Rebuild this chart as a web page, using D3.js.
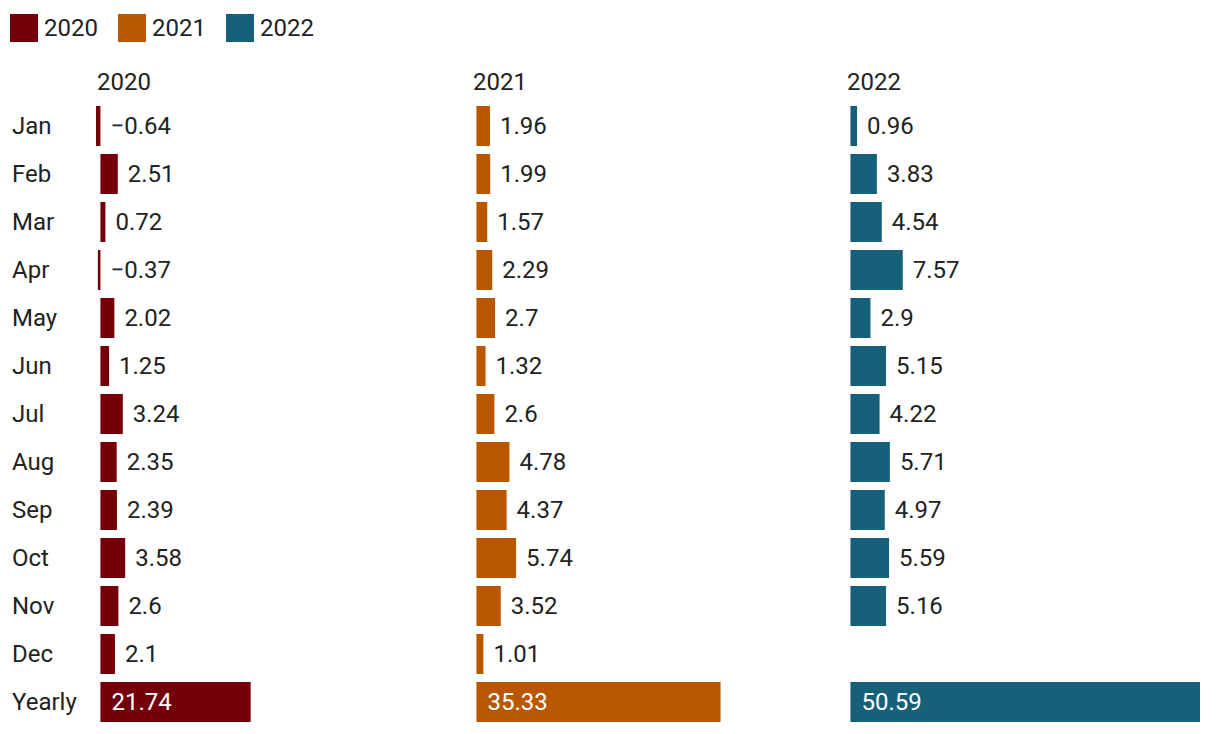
<!DOCTYPE html>
<html><head><meta charset="utf-8">
<script src="https://cdn.jsdelivr.net/npm/d3@7"></script>
<style>body{margin:0;background:#fff;} text{font-family:Roboto,"Noto Sans",sans-serif;}</style>
</head><body>
<svg id="c" width="1220" height="734"></svg>
<script>
const categories = ["Jan","Feb","Mar","Apr","May","Jun","Jul","Aug","Sep","Oct","Nov","Dec","Yearly"];
const years = ["2020","2021","2022"];
const values2020 = [-0.64,2.51,0.72,-0.37,2.02,1.25,3.24,2.35,2.39,3.58,2.6,2.1,21.74];
const values2021 = [1.96,1.99,1.57,2.29,2.7,1.32,2.6,4.78,4.37,5.74,3.52,1.01,35.33];
const values2022 = [0.96,3.83,4.54,7.57,2.9,5.15,4.22,5.71,4.97,5.59,5.16,null,50.59];
const colors = ["#730009","#b95700","#17607a"];
const series = [values2020, values2021, values2022];

const svg = d3.select("#c");
const textColor = "#222";
const fs = 24;

// legend
const lg = svg.append("g");
years.forEach((y,i)=>{
  const xs = [10,118,226][i];
  lg.append("rect").attr("x",xs).attr("y",14).attr("width",28).attr("height",28).attr("fill",colors[i]);
  lg.append("text").attr("x",xs+34).attr("y",36).attr("font-size",fs).attr("fill",textColor).text(y);
});

const yScale = d3.scaleBand().domain(categories).range([102,726]).paddingInner(1/6).paddingOuter(1/12);
const all = series.flat().filter(v=>v!=null);
const panelX = [96,472,846];
const panelW = 354;

// row labels
svg.append("g").selectAll("text").data(categories).join("text")
  .attr("x",12).attr("y",d=>yScale(d)+yScale.bandwidth()/2).attr("dy","0.35em")
  .attr("font-size",fs).attr("fill",textColor).text(d=>d);

series.forEach((vals,i)=>{
  const x = d3.scaleLinear().domain([d3.min(all), d3.max(all)]).range([panelX[i], panelX[i]+panelW]);
  const g = svg.append("g");
  g.append("text").attr("x",panelX[i]+1).attr("y",90).attr("font-size",fs).attr("fill",textColor).text(years[i]);
  const data = categories.map((c,k)=>({c, v: vals[k]})).filter(d=>d.v!=null);
  g.selectAll("rect").data(data).join("rect")
    .attr("x",d=>x(Math.min(0,d.v))).attr("width",d=>Math.abs(x(d.v)-x(0)))
    .attr("y",d=>yScale(d.c)).attr("height",yScale.bandwidth())
    .attr("fill",colors[i]);
  g.selectAll("text.v").data(data).join("text").attr("class","v")
    .attr("x",d=> d.c==="Yearly" ? x(0)+11 : x(Math.max(0,d.v))+10)
    .attr("y",d=>yScale(d.c)+yScale.bandwidth()/2).attr("dy","0.35em")
    .attr("font-size",fs).attr("fill",d=>d.c==="Yearly"?"#fff":textColor)
    .text(d=>d.v<0 ? "\u2212"+Math.abs(d.v) : String(d.v));
});
</script>
</body></html>
